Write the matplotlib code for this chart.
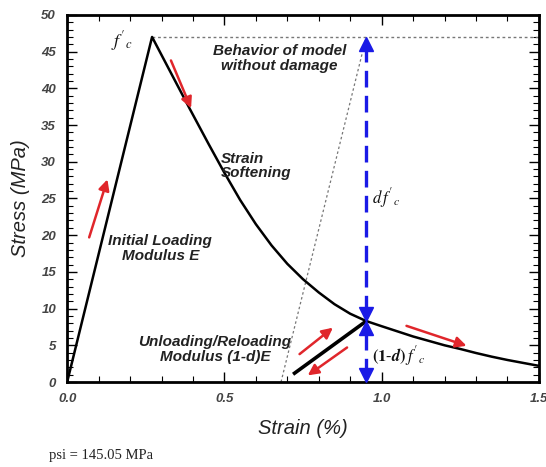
import matplotlib
matplotlib.use("Agg")
import matplotlib.pyplot as plt
from matplotlib.ticker import MultipleLocator

plt.rcParams["mathtext.fontset"] = "stix"

# ---- data ----
strain = [0.0, 0.27, 0.33, 0.39, 0.45, 0.50, 0.55, 0.60, 0.65, 0.70, 0.75,
          0.80, 0.85, 0.90, 0.951, 1.00, 1.05, 1.10, 1.15, 1.20, 1.25, 1.30,
          1.35, 1.40, 1.45, 1.50]
stress = [0.0, 47.0, 42.1, 37.2, 32.4, 28.5, 24.8, 21.5, 18.6, 16.1, 14.0,
          12.2, 10.6, 9.3, 8.3, 7.6, 6.9, 6.2, 5.6, 5.0, 4.5, 3.95,
          3.45, 3.0, 2.6, 2.2]

peak_strain, peak_stress = 0.27, 47.0
unload_strain = [0.723, 0.951]
unload_stress = [1.2, 8.3]
undamaged_strain = [0.68, 0.951]
undamaged_stress = [0.0, 47.0]
damage_strain = 0.951
damage_stress = 8.3

xticks = [0.0, 0.5, 1.0, 1.5]
xticklabels = ["0.0", "0.5", "1.0", "1.5"]
yticks = [0, 5, 10, 15, 20, 25, 30, 35, 40, 45, 50]

# red arrows: (start x, start y, end x, end y)
red_arrows = [
    (0.070, 19.7, 0.128, 27.6),
    (0.330, 43.8, 0.394, 37.3),
    (0.739, 3.8, 0.845, 7.4),
    (0.890, 4.7, 0.765, 0.9),
    (1.079, 7.65, 1.270, 4.93),
]

fig = plt.figure(figsize=(5.46, 4.67), dpi=100)
ax = fig.add_axes([0.123, 0.182, 0.864, 0.786])

ax.plot(strain, stress, color="black", lw=1.8, zorder=3)
ax.plot(unload_strain, unload_stress, color="black", lw=2.6, zorder=3)
ax.plot([peak_strain, 1.5], [peak_stress, peak_stress], color="#777777",
        lw=1.0, ls=(0, (2, 2)), zorder=2)
ax.plot(undamaged_strain, undamaged_stress, color="#777777", lw=0.9,
        ls=(0, (2, 2)), zorder=2)

red = "#e0262b"
for x0, y0, x1, y1 in red_arrows:
    ax.annotate("", xy=(x1, y1), xytext=(x0, y0),
                arrowprops=dict(arrowstyle="-|>", color=red, lw=1.8,
                                mutation_scale=16, shrinkA=0, shrinkB=0),
                zorder=4)

blue = "#1a1ae6"
ax.plot([damage_strain, damage_strain], [damage_stress + 1.2, peak_stress - 1.5],
        color=blue, lw=2.4, ls=(0, (5, 2.5)), zorder=4)
ax.plot([damage_strain, damage_strain], [1.0, damage_stress - 1.2],
        color=blue, lw=2.4, ls=(0, (5, 2.5)), zorder=4)
ms = 10
ax.plot([damage_strain], [peak_stress - 0.9], marker="^", color=blue, ms=ms,
        clip_on=False, zorder=5)
ax.plot([damage_strain], [damage_stress + 1.0], marker="v", color=blue, ms=ms, zorder=5)
ax.plot([damage_strain], [damage_stress - 0.9], marker="^", color=blue, ms=ms, zorder=5)
ax.plot([damage_strain], [0.9], marker="v", color=blue, ms=ms, clip_on=False, zorder=5)

sans = {"family": "Liberation Sans", "style": "italic", "weight": "bold",
        "color": "#222222"}
ax.text(0.675, 44.1, "Behavior of model\nwithout damage", ha="center", va="center",
        fontsize=11, linespacing=1.05, **sans)
ax.text(0.49, 29.4, "Strain\nSoftening", ha="left", va="center",
        fontsize=11, linespacing=1.05, **sans)
ax.text(0.296, 18.2, "Initial Loading\nModulus E", ha="center", va="center",
        fontsize=11, linespacing=1.05, **sans)
ax.text(0.47, 4.4, "Unloading/Reloading\nModulus (1-d)E", ha="center", va="center",
        fontsize=11, linespacing=1.05, **sans)

ax.text(0.207, 46.4, r"$f'_{c}$", ha="right", va="center", fontsize=13,
        color="#111111")
ax.text(0.968, 25.1, r"$d\,f'_{c}$", ha="left", va="center", fontsize=12,
        color="#111111")
ax.text(0.97, 3.6, r"$\mathbf{(1\text{-}}\boldsymbol{d}\mathbf{)}\,f'_{c}$",
        ha="left", va="center", fontsize=12, color="#111111")

ax.set_xlim(0, 1.5)
ax.set_ylim(0, 50)
ax.set_xticks(xticks)
ax.set_xticklabels(xticklabels)
ax.set_yticks(yticks)
ax.xaxis.set_minor_locator(MultipleLocator(0.1))
ax.yaxis.set_minor_locator(MultipleLocator(1))
ax.tick_params(which="both", direction="in", top=True, right=True)
ax.tick_params(which="major", length=7, width=1.0, pad=8)
ax.tick_params(which="minor", length=4, width=0.8)
for lab in ax.get_xticklabels() + ax.get_yticklabels():
    lab.set_fontstyle("italic")
    lab.set_fontweight("bold")
    lab.set_fontsize(9.5)
    lab.set_color("#444444")
    lab.set_family("Liberation Sans")
for s in ax.spines.values():
    s.set_linewidth(2.0)

ax.set_xlabel("Strain (%)", fontsize=14.5, style="italic", family="Liberation Sans",
              color="#222222", labelpad=10)
ax.set_ylabel("Stress (MPa)", fontsize=14.5, style="italic", family="Liberation Sans",
              color="#222222", labelpad=8)

fig.text(0.09, 0.025, "psi = 145.05 MPa", fontsize=10.5, family="Liberation Serif",
         color="#222222", va="center")

fig.savefig("out.png", dpi=100)
